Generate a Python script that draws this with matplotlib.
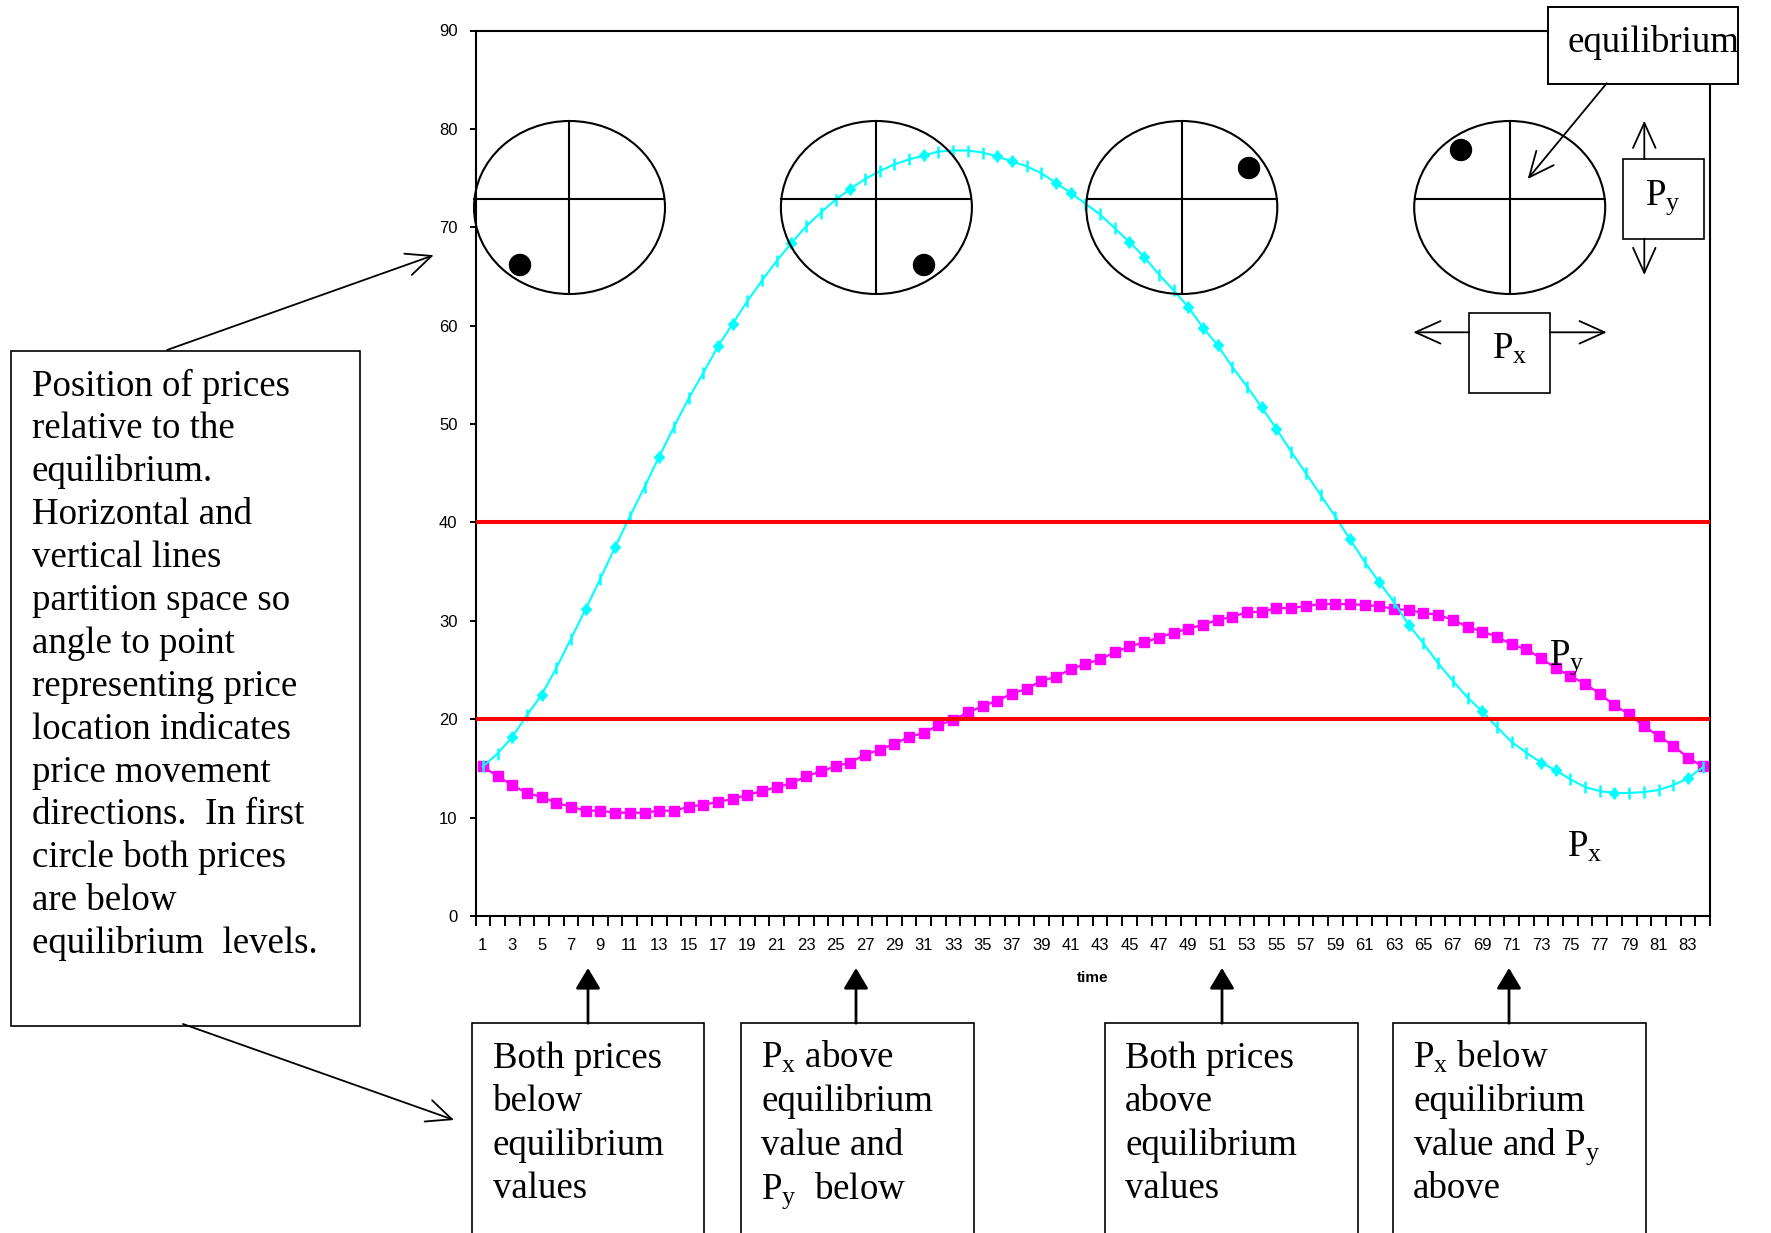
import matplotlib
matplotlib.use('Agg')
import matplotlib.pyplot as plt
from matplotlib.patches import Ellipse, Rectangle, Circle
from matplotlib.ticker import FixedLocator

plt.rcParams['font.family'] = ['Liberation Serif', 'DejaVu Sans']
plt.rcParams['mathtext.fontset'] = 'custom'
plt.rcParams['mathtext.rm'] = 'Liberation Serif'
plt.rcParams['mathtext.it'] = 'Liberation Serif:italic'

# ---------------- data ----------------
time = list(range(1, 85))
px = [15.2, 16.5, 18.2, 20.4, 22.5, 25.2, 28.2, 31.2, 34.3, 37.5,
      40.6, 43.6, 46.7, 49.7, 52.6, 55.2, 57.9, 60.2, 62.5, 64.6,
      66.6, 68.4, 70.1, 71.5, 72.8, 73.9, 74.9, 75.7, 76.4, 76.9,
      77.3, 77.7, 77.8, 77.8, 77.6, 77.2, 76.7, 76.2, 75.5, 74.5,
      73.5, 72.4, 71.3, 69.9, 68.5, 67.0, 65.2, 63.6, 61.9, 59.8,
      58.0, 55.8, 53.8, 51.7, 49.5, 47.2, 45.0, 42.8, 40.6, 38.3,
      36.0, 33.9, 31.9, 29.6, 27.7, 25.7, 23.9, 22.2, 20.8, 19.2,
      17.7, 16.6, 15.6, 14.8, 13.9, 13.1, 12.7, 12.5, 12.5, 12.6,
      12.8, 13.3, 14.0, 15.1]
py = [15.2, 14.2, 13.3, 12.5, 12.1, 11.5, 11.1, 10.7, 10.7, 10.5,
      10.5, 10.5, 10.7, 10.7, 11.1, 11.3, 11.6, 11.9, 12.3, 12.7,
      13.1, 13.5, 14.2, 14.7, 15.2, 15.6, 16.4, 16.9, 17.5, 18.2,
      18.6, 19.4, 19.9, 20.7, 21.3, 21.9, 22.6, 23.1, 23.9, 24.3,
      25.1, 25.6, 26.1, 26.8, 27.4, 27.8, 28.3, 28.8, 29.2, 29.6,
      30.1, 30.4, 30.9, 30.9, 31.3, 31.3, 31.5, 31.7, 31.7, 31.7,
      31.6, 31.5, 31.2, 31.1, 30.8, 30.6, 30.1, 29.4, 28.9, 28.4,
      27.6, 27.1, 26.2, 25.2, 24.4, 23.6, 22.6, 21.4, 20.5, 19.3,
      18.3, 17.3, 16.1, 15.2]
eq_x = 40
eq_y = 20
x_tick_values = list(range(1, 84, 2))
x_tick_labels = [str(v) for v in x_tick_values]
y_ticks = list(range(0, 91, 10))
y_tick_labels = [str(v) for v in y_ticks]

# points of the Px series that carry a diamond marker (1-based time)
diamond_times = [3, 5, 8, 10, 13, 17, 18, 22, 26, 31, 36, 37, 40, 41, 45, 46,
                 49, 50, 51, 54, 55, 60, 62, 64, 69, 73, 74, 78, 83]

# ---------------- figure ----------------
W, H = 1771, 1233
fig = plt.figure(figsize=(W / 100, H / 100), dpi=100)
fig.patch.set_facecolor('white')
ax = fig.add_axes([475.5 / W, 1 - 916 / H, (1710 - 475.5) / W, (916 - 30.5) / H])

CYAN = '#00FFFF'
MAG = '#FF00FF'

ax.plot(time, py, color=MAG, lw=1.6, marker='s', ms=7.2, mec=MAG, mfc=MAG, zorder=3)
ax.plot(time, px, color=CYAN, lw=1.5, marker='|', ms=8, mew=1.8, zorder=3.2)
ax.plot(time, px, ls='none', marker='D', ms=5.5, color=CYAN,
        markevery=[t - 1 for t in diamond_times], zorder=3.3)
ax.axhline(eq_x, color='#FF0000', lw=2.9, zorder=4)
ax.axhline(eq_y, color='#FF0000', lw=2.9, zorder=4)

TICKFONT = dict(fontfamily='Liberation Sans', fontsize=12)
ax.set_xlim(0.5, 84.5)
ax.set_ylim(0, 90)
ax.set_xticks(x_tick_values)
ax.set_xticklabels(x_tick_labels, **TICKFONT)
ax.xaxis.set_minor_locator(FixedLocator([i + 0.5 for i in range(0, 85)]))
ax.tick_params(axis='x', which='major', length=0, pad=16)
ax.tick_params(axis='x', which='minor', length=7.5, width=1.4, direction='out', color='black')
ax.set_yticks(y_ticks)
ax.set_yticklabels(y_tick_labels, **TICKFONT)
ax.tick_params(axis='y', which='major', length=4.5, width=1.4, pad=8.4)
ax.set_xlabel('time', fontfamily='Liberation Sans', fontweight='bold', fontsize=11, labelpad=13)
for sp in ax.spines.values():
    sp.set_linewidth(1.5)
    sp.set_color('black')

# ---------------- overlay annotations (pixel coordinates) ----------------
ov = fig.add_axes([0, 0, 1, 1], zorder=10)
ov.set_xlim(0, W)
ov.set_ylim(H, 0)
ov.axis('off')

FS = 26.6

# quadrant circles
circle_centers = [569.5, 876.4, 1181.8, 1509.7]
dots = [(520, 265), (924, 265), (1249, 168), (1461, 150)]
for cx, (dx, dy) in zip(circle_centers, dots):
    ov.add_patch(Ellipse((cx, 207.5), 191, 173, fill=False, lw=1.5, ec='black'))
    ov.plot([cx - 95, cx + 95], [199, 199], color='black', lw=1.5)
    ov.plot([cx, cx], [121, 294], color='black', lw=1.5)
    ov.add_patch(Circle((dx, dy), 10.5, color='black'))


def box(x0, y0, x1, y1, lw=1.2):
    ov.add_patch(Rectangle((x0, y0), x1 - x0, y1 - y0, fc='white', ec='black', lw=lw))


def open_arrow(x0, y0, x1, y1):
    ov.annotate('', xy=(x1, y1), xytext=(x0, y0),
                arrowprops=dict(arrowstyle='->,head_length=1.0,head_width=0.45',
                                lw=1.3, color='black', mutation_scale=18,
                                shrinkA=0, shrinkB=0))


def solid_arrow(x0, y0, x1, y1):
    ov.annotate('', xy=(x1, y1), xytext=(x0, y0),
                arrowprops=dict(arrowstyle='-|>,head_length=0.7,head_width=0.42',
                                lw=2.0, color='black', fc='black', mutation_scale=18,
                                shrinkA=0, shrinkB=0))


# equilibrium box
box(1547.7, 7.3, 1738, 84, lw=1.4)
ov.text(1568, 52, 'equilibrium', fontsize=FS, va='baseline', ha='left')
open_arrow(1606.7, 83.3, 1527.7, 179)

# Py box with arrows
box(1623.3, 159, 1704, 238.7)
ov.text(1645, 205, r'$\mathrm{P}_{\mathrm{y}}$', fontsize=FS, va='baseline', ha='left')
open_arrow(1644.3, 159, 1644.3, 120.7)
open_arrow(1644.3, 238.7, 1644.3, 275)

# Px box with arrows
box(1469.3, 312.7, 1550, 392.7)
ov.text(1491.7, 359, r'$\mathrm{P}_{\mathrm{x}}$', fontsize=FS, va='baseline', ha='left')
open_arrow(1469.3, 332.3, 1413.3, 332.3)
open_arrow(1550, 332.3, 1606.7, 332.3)

# series labels
ov.text(1549.4, 665, r'$\mathrm{P}_{\mathrm{y}}$', fontsize=FS, va='baseline', ha='left')
ov.text(1566.7, 856.7, r'$\mathrm{P}_{\mathrm{x}}$', fontsize=FS, va='baseline', ha='left')

# left explanatory box
left_lines = ['Position of prices', 'relative to the', 'equilibrium.',
              'Horizontal and', 'vertical lines', 'partition space so',
              'angle to point', 'representing price', 'location indicates',
              'price movement', 'directions.  In first', 'circle both prices',
              'are below', 'equilibrium  levels.']
box(11.3, 351.3, 360.3, 1025.6)
for i, line in enumerate(left_lines):
    ov.text(31.6, 395.5 + 42.9 * i, line, fontsize=FS, va='baseline', ha='left')
open_arrow(167, 350, 433.7, 255.2)
open_arrow(183, 1024, 454, 1120)

# bottom boxes
bottom_boxes = [
    (472.1, 703.7, 588, ['Both prices', 'below', 'equilibrium', 'values']),
    (741.0, 973.6, 856, [r'$\mathrm{P}_{\mathrm{x}}$ above', 'equilibrium', 'value and',
                         r'$\mathrm{P}_{\mathrm{y}}$  below']),
    (1104.6, 1357.7, 1222, ['Both prices', 'above', 'equilibrium', 'values']),
    (1392.7, 1645.7, 1509, [r'$\mathrm{P}_{\mathrm{x}}$ below', 'equilibrium',
                            r'value and $\mathrm{P}_{\mathrm{y}}$', 'above']),
]
for x0, x1, ax_x, lines in bottom_boxes:
    box(x0, 1023.2, x1, 1245)
    for i, line in enumerate(lines):
        ov.text(x0 + 20.5, 1067.5 + 43.6 * i, line, fontsize=FS, va='baseline', ha='left')
    solid_arrow(ax_x, 1023.2, ax_x, 968)

fig.savefig('out.png', dpi=100)
